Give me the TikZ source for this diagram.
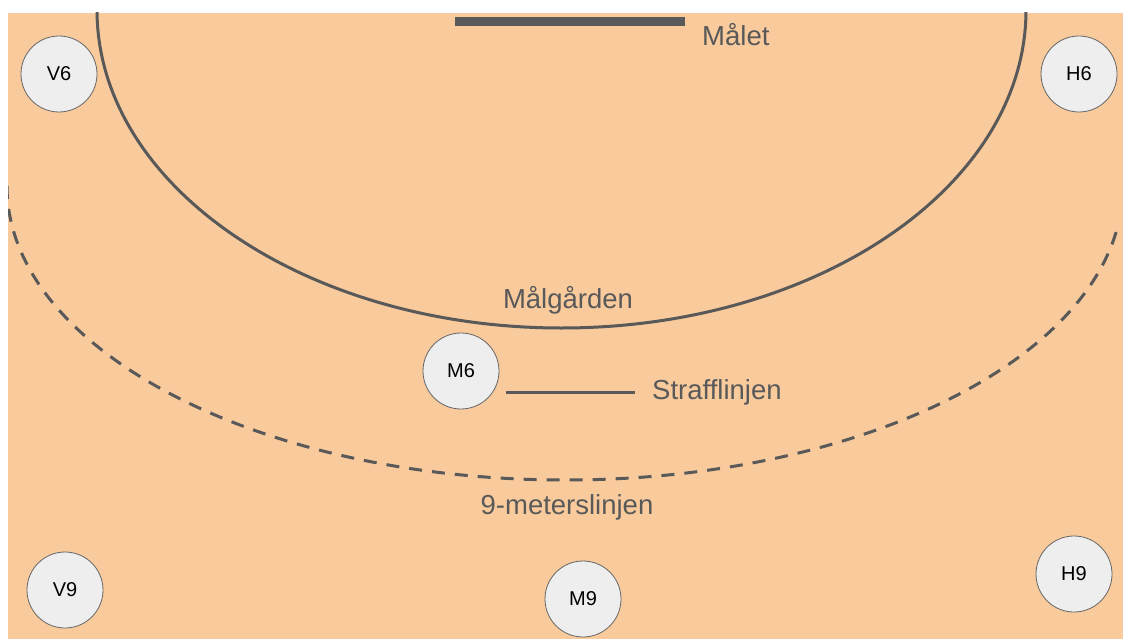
\documentclass[tikz,border=0pt]{standalone}
\usepackage{fontspec}
\setmainfont{Liberation Sans}
\definecolor{court}{HTML}{F8CA9C}
\definecolor{linegray}{HTML}{595959}
\definecolor{playerfill}{HTML}{EEEEEE}
\definecolor{playerdraw}{HTML}{666666}
\begin{document}
\begin{tikzpicture}[x=1pt,y=-1pt,
  player/.style={circle,fill=playerfill,draw=playerdraw,line width=0.8pt,minimum size=76pt,inner sep=0pt,font=\fontsize{20}{24}\selectfont,text=black},
  lbl/.style={font=\fontsize{27.5}{32}\selectfont,text=linegray,inner sep=0pt},
  court line/.style={draw=linegray,line width=3pt}]
\useasboundingbox (0,0) rectangle (1123,639);
\fill[white] (0,0) rectangle (1123,639);
\fill[court] (8,13) rectangle (1123,639);
\begin{scope}
\clip (8,13) rectangle (1123,639);
% goal area
\draw[court line] (97,10) arc[start angle=180,end angle=0,x radius=464.5,y radius=318];
% 9 meter line
\draw[court line,dash pattern=on 13pt off 10pt] (7,186) arc[start angle=180,end angle=8,x radius=558,y radius=294];
\end{scope}
% goal
\draw[linegray,line width=9pt] (455,22) -- (685,22);
\node[lbl,anchor=west] (malet) at (702,35) {Målet};
\node[lbl] (malgarden) at (568,300) {Målgården};
\node[lbl,anchor=west] (straff) at (652,392) {Strafflinjen};
\node[lbl] (nine) at (567,507) {9-meterslinjen};
\coordinate (sl) at (506,392);
\draw[linegray,line width=3pt,shorten >=17pt] (sl) -- (straff.west);
% players
\node[player] (V6) at (59,74) {V6};
\node[player] (H6) at (1079,74) {H6};
\node[player] (M6) at (461,371) {M6};
\node[player] (V9) at (65,590) {V9};
\node[player] (M9) at (583,599) {M9};
\node[player] (H9) at (1074,574) {H9};
\end{tikzpicture}
\end{document}
